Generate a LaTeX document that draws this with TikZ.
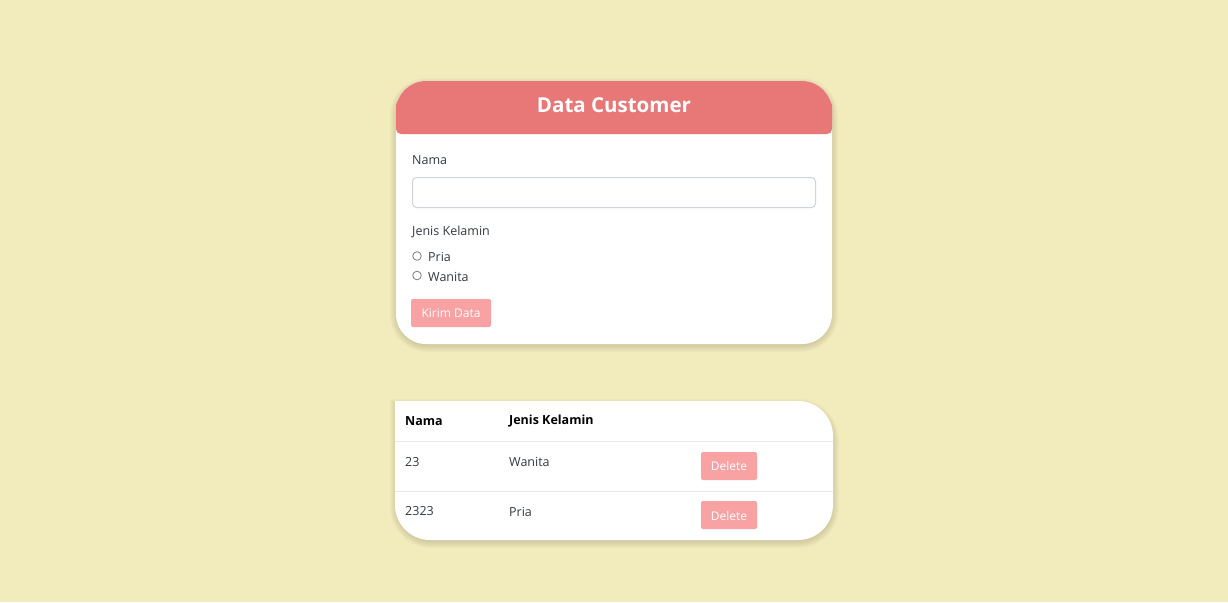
\documentclass[tikz,border=0pt]{standalone}
\usepackage{fontspec}
\setmainfont{Open Sans}
\definecolor{bgc}{HTML}{F2ECBD}
\definecolor{hdr}{HTML}{E87878}
\definecolor{btn}{HTML}{F9A2A3}
\definecolor{txt}{HTML}{343A40}
\definecolor{inb}{HTML}{CED4DA}
\definecolor{sepc}{HTML}{E8E8E8}
\definecolor{radc}{HTML}{7A7A7A}
\definecolor{shc}{HTML}{8A8460}
\tikzset{
  lbl/.style={anchor=west, inner sep=0pt, text=txt, font=\fontsize{12.5}{14}\selectfont},
  th/.style={anchor=west, inner sep=0pt, text=black, font=\fontsize{12.5}{14}\selectfont\bfseries},
  btntxt/.style={inner sep=0pt, text=white, font=\fontsize{12}{14}\selectfont},
  shadowlayer/.style={fill=shc, fill opacity=0.045},
}
\newcommand{\cardshadowdraw}[5]{% x1 y1 x2 y2 radius
  \foreach \s in {1,...,7}{
    \fill[shadowlayer, rounded corners=#5pt+\s pt]
      ({#1-\s+1},{#2-\s+4}) rectangle ({#3+\s-1},{#4+\s+1});
  }
}
% card with square top-left corner: x1 y1 x2 y2 r
\newcommand{\sqcardpath}[5]{%
  ({#1},{#2}) -- ({(#3)-(#5)},{#2}) arc[start angle=-90, end angle=0, radius={#5}]
  -- ({#3},{(#4)-(#5)}) arc[start angle=0, end angle=90, radius={#5}]
  -- ({(#1)+(#5)},{#4}) arc[start angle=90, end angle=180, radius={#5}] -- cycle}
\begin{document}
\begin{tikzpicture}[x=1pt,y=-1pt]
\fill[bgc] (0,0) rectangle (1228,602);
\useasboundingbox (0,0) rectangle (1228,602);
% card 1
\cardshadowdraw{396}{81}{832}{344}{30}
\fill[white, rounded corners=30pt] (396,81) rectangle (832,344);
\begin{scope}
  \clip (390,75) rectangle (840,120);
  \fill[hdr, rounded corners=30pt] (396,81) rectangle (832,170);
\end{scope}
\fill[hdr, rounded corners=5pt] (396,100) rectangle (832,134);
\node[inner sep=0pt, text=white, font=\fontsize{20.5}{24}\selectfont\bfseries] (title) at (614,105) {Data Customer};
\node[lbl] (lnama) at (412,160.5) {Nama};
\draw[inb, line width=1pt, rounded corners=4pt] (412.5,177.5) rectangle (815.5,207.5);
\node (input) at (614,192) {};
\node[lbl] (ljk) at (412,231.5) {Jenis Kelamin};
\draw[radc, line width=0.8pt] (417,256) circle (4.3);
\draw[radc, line width=0.8pt] (417,275.5) circle (4.3);
\node[lbl] (lpria) at (428,256.5) {Pria};
\node[lbl] (lwanita) at (428,276.5) {Wanita};
\fill[btn, rounded corners=2pt] (411,299) rectangle (491,327);
\node[btntxt] (kirim) at (451,313) {Kirim Data};
% card 2
\foreach \s in {1,...,7}{
  \fill[shadowlayer] \sqcardpath{395-\s+2}{401-\s+5}{833+\s-1}{540+\s+1}{35+\s-1};
}
\fill[white] \sqcardpath{395}{401}{833}{540}{35};
\draw[sepc, line width=1pt] (395,441) -- (833,441);
\draw[sepc, line width=1pt] (395,491) -- (833,491);
\node[th] (hnama) at (405,421.5) {Nama};
\node[th] (hjk) at (509,421.5) {Jenis Kelamin};
\node[lbl] (r1a) at (405,462) {23};
\node[lbl] (r1b) at (509,462) {Wanita};
\fill[btn, rounded corners=2pt] (701,452) rectangle (757,480);
\node[btntxt] (del1) at (729,466) {Delete};
\node[lbl] (r2a) at (405,511.5) {2323};
\node[lbl] (r2b) at (509,511.5) {Pria};
\fill[btn, rounded corners=2pt] (701,501) rectangle (757,529);
\node[btntxt] (del2) at (729,515.5) {Delete};
\end{tikzpicture}
\end{document}
